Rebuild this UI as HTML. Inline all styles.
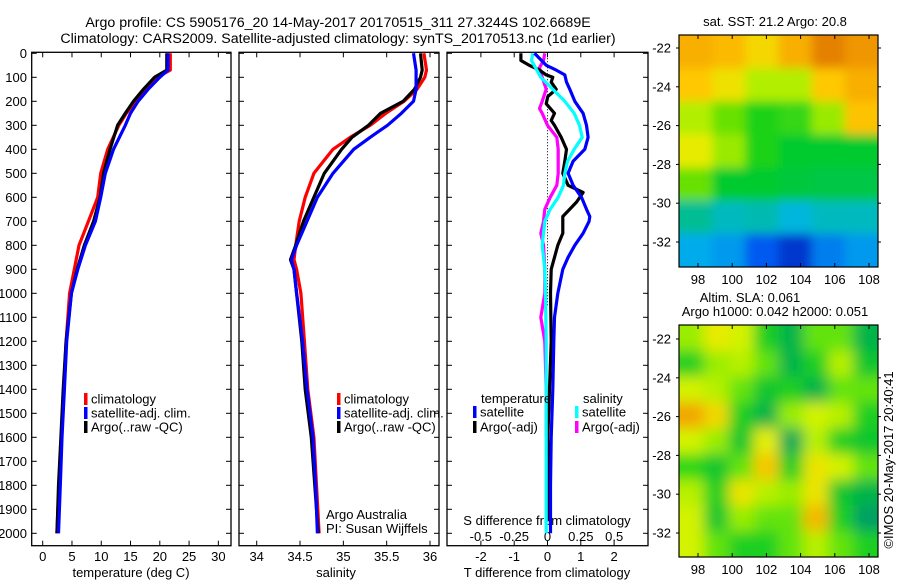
<!DOCTYPE html>
<html><head><meta charset="utf-8"><style>
body{margin:0;background:#fff;}
svg{display:block;font-family:"Liberation Sans",sans-serif;}
text{fill:#000;}
</style></head><body>
<svg id="fig" width="900" height="580" viewBox="0 0 900 580" xmlns="http://www.w3.org/2000/svg">
<defs>
<clipPath id="clipTop"><rect x="679" y="35" width="199" height="232"/></clipPath>
<clipPath id="clipBot"><rect x="679" y="325" width="199" height="232"/></clipPath>
<filter id="blurTop" x="-10%" y="-10%" width="120%" height="120%"><feGaussianBlur stdDeviation="5"/></filter>
<filter id="blurBot" x="-10%" y="-10%" width="120%" height="120%"><feGaussianBlur stdDeviation="7"/></filter>
</defs>
<text x="338" y="27" text-anchor="middle" font-size="14.2">Argo profile: CS 5905176_20 14-May-2017 20170515_311 27.3244S 102.6689E</text>
<text x="338" y="43" text-anchor="middle" font-size="14.2">Climatology: CARS2009. Satellite-adjusted climatology: synTS_20170513.nc (1d earlier)</text>
<g id="g"></g>
</svg>
<script>
// ---------- data ----------
const depthTicks = [0,100,200,300,400,500,600,700,800,900,1000,1100,1200,1300,1400,1500,1600,1700,1800,1900,2000];
const tempTicks = [0,5,10,15,20,25,30];
const salTicks = [34,34.5,35,35.5,36];
const salTickLabels = ["34","34.5","35","35.5","36"];
const tdiffTicks = [-2,-1,0,1,2];
const sdiffTicks = [-0.5,-0.25,0,0.25,0.5];
const sdiffTickLabels = ["-0.5","-0.25","0","0.25","0.5"];

const tempDepth = [0,70,100,150,200,250,300,400,500,600,700,800,900,1000,1200,1400,1600,1800,2000];
const tempClim = [21.8,21.8,19.5,17.5,15.9,14.3,13.0,11.1,9.9,9.4,7.8,6.2,5.4,4.6,4.0,3.6,3.2,2.8,2.4];
const tempSat  = [21.4,21.4,20.0,18.0,16.3,15.0,14.1,12.1,10.7,9.9,9.0,7.3,6.0,4.9,4.1,3.7,3.3,3.0,2.7];
const tempArgo = [21.2,21.2,19.1,17.2,15.5,14.1,12.8,11.5,10.4,9.8,8.7,7.1,5.9,4.9,4.0,3.5,3.1,2.7,2.45];

const salDepth = [0,70,100,150,200,250,300,350,400,500,600,700,800,860,900,1000,1200,1400,1600,1800,2000];
const salClim = [35.93,35.96,35.94,35.85,35.70,35.49,35.31,35.08,34.88,34.66,34.56,34.49,34.45,34.43,34.46,34.51,34.55,34.59,34.66,34.69,34.72];
const salSat  = [35.81,35.84,35.84,35.84,35.81,35.67,35.51,35.31,35.12,34.88,34.70,34.58,34.46,34.40,34.43,34.46,34.53,34.58,34.65,34.68,34.70];
const salArgo = [35.89,35.91,35.89,35.82,35.69,35.43,35.29,35.10,34.98,34.78,34.66,34.54,34.45,34.39,34.43,34.46,34.52,34.56,34.63,34.67,34.71];

const tSatDepth = [0,50,70,90,120,150,200,250,300,350,400,450,500,550,600,650,680,700,750,800,850,900,1000,1100,1200,1400,1600,1800,2000];
const tSatDiff  = [-0.39,-0.04,0.26,0.52,0.57,0.67,0.82,1.07,1.17,1.22,1.12,0.77,0.62,0.77,1.02,1.17,1.27,1.25,1.07,0.82,0.62,0.46,0.31,0.21,0.19,0.16,0.11,0.09,0.09];
const tArgoDepth = [0,30,50,70,90,100,120,150,180,210,250,280,300,350,400,450,500,550,580,620,680,750,800,850,900,1000,1200,1400,1600,1800,1950];
const tArgoDiff  = [-0.80,-0.80,-0.55,-0.24,-0.04,0.16,0.11,0.26,0.01,-0.04,0.21,0.11,0.21,0.41,0.57,0.52,0.46,0.62,1.07,0.87,0.46,0.46,0.31,0.21,0.11,0.09,0.11,0.06,0.01,0.04,0.03];
const sSatDepth = [0,30,60,100,150,200,250,300,350,400,450,500,550,600,650,700,800,900,1000,1200,1400,1600,1800,2000];
const sSatDiff  = [-0.11,-0.12,-0.09,-0.05,0.04,0.13,0.20,0.24,0.26,0.20,0.15,0.13,0.12,0.08,0.02,-0.02,-0.04,-0.02,-0.015,-0.01,-0.01,-0.01,-0.01,-0.01];
const sArgoDepth = [0,30,60,100,150,200,230,250,300,350,400,500,550,600,650,700,750,800,900,1000,1100,1200,1400,1600];
const sArgoDiff  = [-0.02,-0.03,-0.06,-0.04,-0.01,-0.04,-0.06,-0.04,0.00,0.07,0.08,0.08,0.07,0.02,-0.02,-0.03,-0.05,-0.03,-0.02,-0.02,-0.05,-0.02,-0.01,-0.01];

const lonTicks = [98,100,102,104,106,108];
const latTicks = [-22,-24,-26,-28,-30,-32];
// SST normalized colour values (rows north->south, cols west->east)
const sstGrid = [
 [0.80,0.78,0.72,0.80,0.88,0.85],
 [0.75,0.70,0.62,0.62,0.75,0.80],
 [0.62,0.56,0.50,0.52,0.60,0.76],
 [0.68,0.60,0.50,0.46,0.46,0.46],
 [0.56,0.46,0.46,0.44,0.43,0.43],
 [0.36,0.33,0.34,0.31,0.33,0.33],
 [0.29,0.27,0.20,0.15,0.24,0.27]];
// SLA normalized colour values
const slaGrid = [
 [0.58,0.65,0.62,0.50,0.44,0.55,0.55,0.44],
 [0.50,0.58,0.60,0.55,0.44,0.50,0.60,0.48],
 [0.62,0.60,0.55,0.48,0.50,0.44,0.55,0.55],
 [0.76,0.68,0.50,0.44,0.58,0.62,0.60,0.50],
 [0.62,0.58,0.48,0.64,0.42,0.60,0.50,0.48],
 [0.52,0.48,0.55,0.71,0.50,0.66,0.62,0.55],
 [0.60,0.50,0.66,0.60,0.58,0.66,0.48,0.44],
 [0.62,0.48,0.58,0.55,0.55,0.73,0.50,0.40],
 [0.62,0.55,0.50,0.50,0.55,0.60,0.55,0.50]];

// ---------- helpers ----------
const NS="http://www.w3.org/2000/svg";
const G=document.getElementById('g');
function mk(tag,attrs,parent){const e=document.createElementNS(NS,tag);for(const k in attrs)e.setAttribute(k,attrs[k]);(parent||G).appendChild(e);return e;}
const yD = d => 53.3 + d*0.24;
const xT = t => 42.7 + t*5.855;
const xS = s => 256.7 + (s-34)*86.65;
const xTD = t => 547.5 + t*33.3;
const xSD = s => 547.5 + s*133.3;
const TOP=52.3, BOT=545.7;

function panel(x0,x1,name){
  const r=mk('rect',{x:x0,y:TOP,width:x1-x0,height:BOT-TOP,fill:'none',stroke:'#000','stroke-width':1.3});
  
  
  depthTicks.forEach(d=>{
    const y=yD(d);
    const t1=mk('line',{x1:x0,x2:x0+5,y1:y,y2:y,stroke:'#000'});
    
    
    const t2=mk('line',{x1:x1-5,x2:x1,y1:y,y2:y,stroke:'#000'});
    
    
  });
}
function xticks(vals,labels,fx,ly,name){
  vals.forEach((v,i)=>{
    const x=fx(v);
    const a=mk('line',{x1:x,x2:x,y1:BOT-5,y2:BOT,stroke:'#000'});
    
    
    const b=mk('line',{x1:x,x2:x,y1:TOP,y2:TOP+5,stroke:'#000'});
    
    
    if(ly){const t=mk('text',{x:x,y:ly,'text-anchor':'middle','font-size':13});t.textContent=labels[i];
    
    }
  });
}
function series(depths,vals,fx,color,name){
  const pts=depths.map((d,i)=>fx(vals[i]).toFixed(1)+','+yD(d).toFixed(1)).join(' ');
  const p=mk('polyline',{points:pts,fill:'none',stroke:color,'stroke-width':3.2,'stroke-linejoin':'round'});
  
  
}
function txt(x,y,s,name,opts){const t=mk('text',Object.assign({x:x,y:y,'font-size':13},opts||{}));t.textContent=s;
  
  return t;}
function legend(x,y,color,label,name){
  const r=mk('rect',{x:x,y:y-6,width:3.5,height:12,fill:color});
  
  
  txt(x+7,y+4.5,label,name);
}

// ---------- panels ----------
panel(31.7,231,'temperature-panel');
panel(239,439,'salinity-panel');
panel(447,648,'difference-panel');
depthTicks.forEach(d=>{txt(27,yD(d)+4.5,String(d),'depth-tick-label',{'text-anchor':'end'});});

xticks(tempTicks,tempTicks.map(String),xT,561,'temperature');
txt(131,577,'temperature (deg C)','temperature-axis-title',{'text-anchor':'middle'});
xticks(salTicks,salTickLabels,xS,561,'salinity');
txt(336,577,'salinity','salinity-axis-title',{'text-anchor':'middle'});
xticks(tdiffTicks,tdiffTicks.map(String),xTD,561,'t-difference');
txt(547,577,'T difference from climatology','t-difference-axis-title',{'text-anchor':'middle'});
sdiffTicks.forEach((v,i)=>{txt(xSD(v),541,sdiffTickLabels[i],'s-difference-tick-label',{'text-anchor':'middle'});});
txt(547,525,'S difference from climatology','s-difference-axis-title',{'text-anchor':'middle'});

// zero line
const z=mk('line',{x1:xTD(0),x2:xTD(0),y1:TOP,y2:yD(1050),stroke:'#000','stroke-dasharray':'1,2','stroke-width':1});



series(tempDepth,tempClim,xT,'#ff0000','temperature-climatology-line');
series(tempDepth,tempArgo,xT,'#000000','temperature-argo-line');
series(tempDepth,tempSat,xT,'#0000ff','temperature-satellite-line');
series(salDepth,salClim,xS,'#ff0000','salinity-climatology-line');
series(salDepth,salArgo,xS,'#000000','salinity-argo-line');
series(salDepth,salSat,xS,'#0000ff','salinity-satellite-line');
series(sArgoDepth,sArgoDiff,xSD,'#ff00ff','s-argo-difference-line');
series(tArgoDepth,tArgoDiff,xTD,'#000000','t-argo-difference-line');
series(sSatDepth,sSatDiff,xSD,'#00ffff','s-satellite-difference-line');
series(tSatDepth,tSatDiff,xTD,'#0000ff','t-satellite-difference-line');

legend(84,399,'#ff0000','climatology','legend-climatology');
legend(84,413,'#0000ff','satellite-adj. clim.','legend-satellite');
legend(84,427,'#000000','Argo(..raw -QC)','legend-argo');
legend(337,399,'#ff0000','climatology','legend-climatology-2');
legend(337,413,'#0000ff','satellite-adj. clim.','legend-satellite-2');
legend(337,427,'#000000','Argo(..raw -QC)','legend-argo-2');
txt(481,403,'temperature','legend-temperature-heading');
txt(583,403,'salinity','legend-salinity-heading');
legend(473,412,'#0000ff','satellite','legend-t-satellite');
legend(473,427,'#000000','Argo(-adj)','legend-t-argo');
legend(575,412,'#00ffff','satellite','legend-s-satellite');
legend(575,427,'#ff00ff','Argo(-adj)','legend-s-argo');
txt(326,519,'Argo Australia','credit-argo-australia');
txt(326,533,'PI: Susan Wijffels','credit-pi');

// ---------- maps ----------
function lerp(a,b,t){return a+(b-a)*t;}
function cmap(stops,v){
  if(v<=stops[0][0])return stops[0][1];
  for(let i=1;i<stops.length;i++){if(v<=stops[i][0]){const t=(v-stops[i-1][0])/(stops[i][0]-stops[i-1][0]);const a=stops[i-1][1],b=stops[i][1];
    return [0,1,2].map(k=>Math.round(lerp(a[k],b[k],t)));}}
  return stops[stops.length-1][1];
}
const sstStops=[[0.1,[0,20,170]],[0.2,[0,90,240]],[0.3,[0,180,235]],[0.4,[0,195,90]],[0.48,[0,205,30]],[0.58,[130,230,0]],[0.66,[225,245,0]],[0.75,[255,200,0]],[0.85,[240,150,0]],[0.95,[200,80,0]]];
const slaStops=[[0.4,[0,160,100]],[0.46,[0,190,60]],[0.52,[40,215,20]],[0.57,[140,235,0]],[0.63,[225,245,0]],[0.7,[250,205,0]],[0.78,[240,150,0]]];

function heatmap(grid,stops,x0,y0,w,h,clip,filt,name){
  const g=mk('g',{'clip-path':'url(#'+clip+')'});
  
  
  const inner=mk('g',{filter:'url(#'+filt+')'},g);
  const R=grid.length,C=grid[0].length,cw=w/C,ch=h/R,ext=30;
  grid.forEach((row,i)=>row.forEach((v,j)=>{
    const c=cmap(stops,v);
    let x=x0+j*cw,y=y0+i*ch,ww=cw+1,hh=ch+1;
    if(j===0){x-=ext;ww+=ext;} if(j===C-1){ww+=ext;}
    if(i===0){y-=ext;hh+=ext;} if(i===R-1){hh+=ext;}
    const r=mk('rect',{x:x,y:y,width:ww,height:hh,fill:'rgb('+c.join(',')+')'},inner);
    
    
  }));
}
function mapAxes(x0,y0,w,h,latY0,name){
  const f=mk('rect',{x:x0,y:y0,width:w,height:h,fill:'none',stroke:'#000','stroke-width':1.2});
  
  
  const xL=lon=>698+(lon-98)*17.1;
  const yL=lat=>latY0+(-22-lat)*19.4;
  lonTicks.forEach(l=>{const x=xL(l);
    mk('line',{x1:x,x2:x,y1:y0+h-4,y2:y0+h,stroke:'#000'});
    mk('line',{x1:x,x2:x,y1:y0,y2:y0+4,stroke:'#000'});
    txt(x,y0+h+17,String(l),name+'-lon-label',{'text-anchor':'middle'});});
  latTicks.forEach(l=>{const y=yL(l);
    mk('line',{x1:x0-3,x2:x0,y1:y,y2:y,stroke:'#000'});
    mk('line',{x1:x0+w,x2:x0+w+3,y1:y,y2:y,stroke:'#000'});
    txt(x0-8,y+4.5,String(l),name+'-lat-label',{'text-anchor':'end'});});
}
heatmap(sstGrid,sstStops,679,35,199,232,'clipTop','blurTop','sst-heatmap');
mapAxes(679,35,199,232,48,'sst-map');
heatmap(slaGrid,slaStops,679,325,199,232,'clipBot','blurBot','sla-heatmap');
mapAxes(679,325,199,232,339,'sla-map');
txt(775,26,'sat. SST: 21.2 Argo: 20.8','sst-map-title',{'text-anchor':'middle'});
txt(750,302,'Altim. SLA: 0.061','sla-map-title',{'text-anchor':'middle'});
txt(775,316,'Argo h1000: 0.042 h2000: 0.051','sla-map-subtitle',{'text-anchor':'middle'});
txt(0,0,'©IMOS 20-May-2017 20:40:41','timestamp',{'text-anchor':'middle',transform:'translate(893,460) rotate(-90)'});
</script>
</body></html>
